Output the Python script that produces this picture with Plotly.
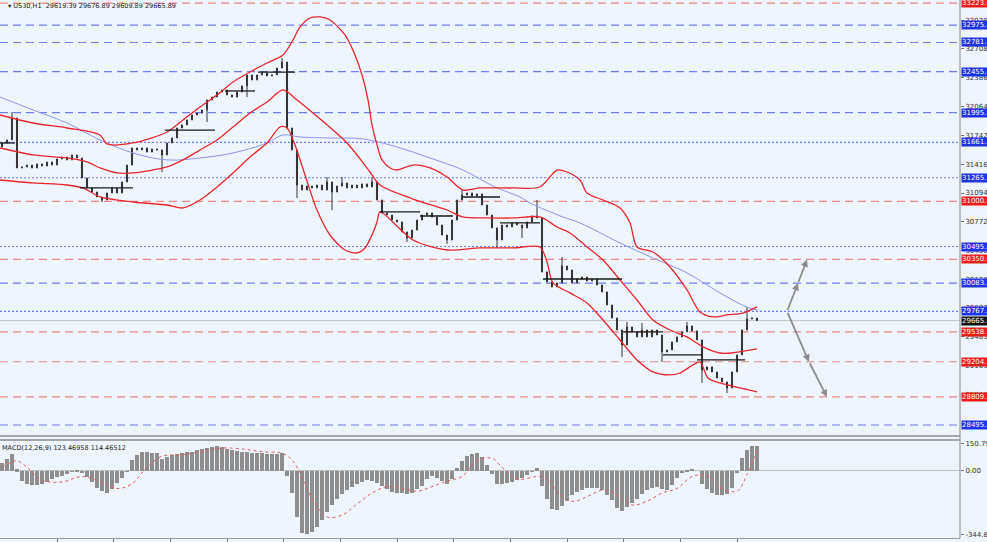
import plotly.graph_objects as go

# ---------------- data ----------------
first_open = 31610
closes = [31655, 31689, 31935, 31375, 31386, 31408, 31375, 31420, 31397, 31442,
          31408, 31476, 31498, 31465, 31521, 31487, 31263, 31151, 31106, 31050,
          31016, 31095, 31151, 31095, 31218, 31408, 31599, 31577, 31599, 31554,
          31588, 31577, 31521, 31655, 31711, 31823, 31857, 31913, 31969, 31991,
          32025, 32137, 32170, 32226, 32249, 32193, 32170, 32226, 32294, 32417,
          32361, 32417, 32439, 32406, 32417, 32495, 32562, 31823, 31577, 31184,
          31128, 31173, 31151, 31184, 31128, 31218, 31106, 31173, 31207, 31151,
          31184, 31151, 31196, 31162, 31218, 31016, 30871, 30848, 30792, 30770,
          30658, 30591, 30680, 30792, 30848, 30871, 30826, 30736, 30624, 30568,
          30792, 31016, 31072, 31095, 31061, 31084, 30960, 30848, 30703, 30568,
          30736, 30714, 30759, 30736, 30703, 30770, 30837, 30815, 30210, 30098,
          30042, 30087, 30277, 30232, 30087, 30131, 30154, 30109, 30131, 30064,
          29986, 29840, 29694, 29560, 29392, 29594, 29538, 29482, 29560, 29482,
          29560, 29504, 29314, 29336, 29426, 29482, 29538, 29605, 29549, 29448,
          29112, 29146, 29090, 29022, 28978, 28910, 29090, 29280, 29560, 29683,
          29694, 29665]
wick_high = {2: 32002, 56: 32607, 65: 31274, 68: 31274, 74: 31274, 92: 31128,
             107: 31016, 112: 30378, 125: 29650, 128: 29638, 137: 29650, 149: 29818}
wick_low = {20: 30994, 32: 31330, 41: 31890, 49: 32170, 59: 31039, 66: 30904,
            81: 30546, 89: 30524, 99: 30479, 104: 30591, 124: 29258, 132: 29202,
            140: 28966, 145: 28854}

# Bollinger bands (bar index, price)
upper_t = [-0.4, 6.2, 13, 19.6, 21, 26.2, 33, 36.2, 39.6, 43, 46.2, 49.6, 53, 56.2, 58.2,
           59.6, 61.6, 63.6, 65.6, 68.6, 70.6, 72, 73.2, 74, 75, 76, 77.6, 79, 82.2, 85.6,
           89, 92.2, 95.6, 102.2, 107.6, 111, 113, 115.6, 117, 120.2, 123.6, 125.6, 127,
           130.2, 133.6, 137, 139.6, 142.2, 145, 148.2, 151]
upper_v = [31969, 31879, 31823, 31745, 31644, 31655, 31778, 31913, 32058, 32193, 32338,
           32450, 32551, 32641, 32809, 32954, 33055, 33067, 33033, 32865, 32641, 32417,
           32137, 31857, 31633, 31465, 31375, 31352, 31408, 31375, 31274, 31128, 31151,
           31151, 31162, 31352, 31330, 31240, 31095, 31016, 30927, 30759, 30490, 30434,
           30266, 30008, 29761, 29706, 29728, 29750, 29818]
middle_t = [-0.4, 6.2, 13, 17, 19.6, 23, 26.2, 33, 36.2, 39.6, 43, 46.2, 49.6, 53, 56.2,
            59, 62.2, 69, 73.6, 75.6, 82.2, 89, 92.2, 96.6, 102.2, 107.6, 111, 113.6, 117,
            120.2, 123.6, 127, 130.2, 133.6, 137, 140.2, 143.6, 146, 151]
middle_v = [31599, 31521, 31487, 31442, 31375, 31319, 31319, 31386, 31465, 31577, 31689,
            31834, 31991, 32114, 32249, 32137, 31991, 31655, 31330, 31184, 31027, 30904,
            30826, 30815, 30815, 30826, 30714, 30647, 30490, 30344, 30120, 29896, 29672,
            29560, 29482, 29370, 29302, 29302, 29347]
lower_t = [-0.4, 6.2, 13, 16.2, 19.6, 26.2, 33, 36.2, 39.6, 43, 46.2, 49.6, 53, 55.6, 57,
           58.6, 60.6, 63, 65.6, 68.6, 71, 72.6, 74, 75, 75.6, 82.2, 89, 95.6, 102.2, 107.6,
           109, 110.2, 113.6, 117, 120.2, 123.6, 127, 130.2, 133.6, 135.6, 138.2, 139.6,
           141.2, 143.6, 147.6, 151]
lower_v = [31240, 31207, 31184, 31151, 31050, 30994, 30960, 30927, 31016, 31162, 31319,
           31498, 31655, 31834, 31823, 31633, 31296, 30904, 30624, 30456, 30423, 30479,
           30624, 30770, 30882, 30568, 30456, 30479, 30479, 30490, 30322, 30087, 29975,
           29863, 29672, 29448, 29224, 29090, 29056, 29078, 29168, 29202, 29022, 28966,
           28910, 28865]
ma_t = [-0.4, 6.2, 13, 19.6, 26.2, 33, 39.6, 46.2, 53, 56.2, 59.6, 65.6, 72.2, 79, 85.6,
        92.2, 98.6, 103.6, 105.6, 112.2, 115.6, 123.6, 130.2, 137, 143.6, 148.9, 151]
ma_v = [32170, 32025, 31879, 31689, 31543, 31465, 31487, 31543, 31655, 31745, 31722,
        31711, 31700, 31610, 31487, 31352, 31162, 31050, 30983, 30826, 30759, 30535,
        30367, 30199, 29975, 29818, 29784]

# horizontal levels
levels = [33223.0, 32975.0, 32781.0, 32455.0, 31995.7, 31661.4, 31265.3, 31000.0,
          30495.0, 30350.0, 30083.7, 29767.2, 29538.5, 29204.1, 28809.3, 28495.2]
level_color = ["red", "blue", "blue", "blue", "blue", "blue", "blue", "red",
               "blue", "red", "blue", "blue", "red", "red", "red", "blue"]
level_style = ["dash", "dash", "dash", "dash", "dash", "dot", "dot", "dash",
               "dot", "dash", "dash", "dot", "dash", "dash", "dash", "dash"]
last_price = 29665.8

# grey price-axis ticks
price_ticks = [33029.7, 32708.8, 32386.9, 32064.5, 31742.7, 31416.0, 31094.3, 30772.5,
               30450.6, 30128.8, 29807.0, 29485.2, 29163.4, 28841.6]

# short black horizontal segments (bar start, bar end, price)
seg_x0 = [-0.4, 15.6, 32.6, 44.6, 51.2, 75.6, 83.6, 92.2, 99.6, 108.2, 124.2, 132.2, 139.0]
seg_x1 = [2.6, 26.2, 42.6, 50.6, 58.6, 83.6, 90.2, 99.6, 107.6, 124.0, 132.2, 140.2, 148.6]
seg_p = [31655, 31151, 31800, 32238, 32450, 30882, 30837, 31050, 30759, 30131, 29538,
         29280, 29224]

# projected paths
up_x = [157, 159.2, 161]
up_p = [29767.2, 30083.7, 30350.0]
dn_x = [157, 161.4, 165]
dn_p = [29767.2, 29204.1, 28809.3]

# MACD
macd_hist = [45, 65, 95, 10, -55, -70, -77, -77, -72, -58, -46, -35, -26, -14, -2, 8, -8,
             -35, -62, -92, -110, -118, -100, -67, -38, -5, 60, 90, 102, 104, 100, 96, 65,
             75, 90, 95, 98, 102, 105, 112, 120, 127, 132, 135, 133, 122, 113, 108, 104,
             103, 100, 98, 96, 92, 93, 94, 96, -25, -120, -250, -335, -345, -330, -305,
             -265, -225, -185, -155, -125, -102, -88, -72, -58, -50, -55, -67, -80, -100,
             -112, -119, -122, -125, -120, -100, -80, -45, -25, -36, -55, -73, -45, 15, 55,
             80, 95, 100, 75, 35, -15, -70, -72, -66, -58, -48, -38, -22, -2, 18, -80, -154,
             -205, -210, -192, -165, -130, -115, -102, -93, -90, -95, -105, -130, -160, -200,
             -218, -195, -172, -150, -125, -105, -92, -87, -100, -105, -75, -40, -8, 8, 13,
             0, -70, -100, -120, -132, -130, -125, -95, -10, 70, 115, 134, 134]
sig_t = [0, 3, 5, 8, 12, 16, 20, 23, 26, 29, 32, 36, 40, 44, 48, 52, 56, 58, 60, 62, 65,
         68, 71, 74, 77, 80, 83, 86, 89, 92, 95, 98, 100, 103, 107, 109, 111, 114, 117,
         120, 123, 126, 129, 132, 135, 138, 141, 144, 147, 149, 151]
sig_v = [20, 55, 20, -50, -60, -30, -60, -95, -70, 20, 80, 88, 105, 125, 120, 105, 97,
         60, -30, -150, -250, -240, -180, -120, -85, -95, -110, -85, -55, -30, 55, 70, 20,
         -45, -30, -40, -110, -165, -140, -105, -130, -185, -165, -120, -95, -30, -25,
         -95, -110, -20, 114]
macd_ticks = [150.791, 0.0, -344.812]
x_ticks = [11, 22.2, 33.6, 45, 56.2, 67.6, 79, 90.2, 101.6, 113, 124.2, 135.6, 147]

# ---------------- build ----------------
n = len(closes)
bars = list(range(n))
opens = [first_open] + closes[:-1]
highs = [max(o, c) for o, c in zip(opens, closes)]
lows = [min(o, c) for o, c in zip(opens, closes)]
for k, v in wick_high.items():
    highs[k] = v
for k, v in wick_low.items():
    lows[k] = v

BG = "#eef5fc"
RED = "#e8262c"
FONT = "DejaVu Sans"
col_map = {"red": "#ea8a8a", "blue": "#6f7ff0"}
box_map = {"red": "#f01a1a", "blue": "#1f32e6"}
dash_map = {"dash": "8px,5px", "dot": "2px,2px"}

fig = go.Figure()

# levels
for lv, c, s in zip(levels, level_color, level_style):
    fig.add_shape(type="line", xref="paper", x0=0, x1=1, yref="y", y0=lv, y1=lv,
                  line=dict(color=col_map[c], width=1.2, dash=dash_map[s]), layer="below")
fig.add_shape(type="line", xref="paper", x0=0, x1=1, yref="y", y0=last_price, y1=last_price,
              line=dict(color="#c8c8c8", width=1), layer="below")

fig.add_trace(go.Scatter(x=ma_t, y=ma_v, mode="lines", line=dict(color="#8f96ee", width=1,
                         shape="spline"), hoverinfo="skip", xaxis="x", yaxis="y"))
for t, v in ((upper_t, upper_v), (middle_t, middle_v), (lower_t, lower_v)):
    fig.add_trace(go.Scatter(x=t, y=v, mode="lines",
                             line=dict(color=RED, width=1.3, shape="spline", smoothing=0.8),
                             hoverinfo="skip", xaxis="x", yaxis="y"))

for a, b, p in zip(seg_x0, seg_x1, seg_p):
    fig.add_shape(type="line", xref="x", yref="y", x0=a, x1=b, y0=p, y1=p,
                  line=dict(color="#1a1a1a", width=1.3))

fig.add_trace(go.Candlestick(x=bars, open=opens, high=highs, low=lows, close=closes,
                             increasing=dict(line=dict(color="#333333", width=1), fillcolor="#e6e6e6"),
                             decreasing=dict(line=dict(color="#333333", width=1), fillcolor="#333333"),
                             whiskerwidth=0, xaxis="x", yaxis="y"))

# projection arrows
for px, pp in ((up_x, up_p), (dn_x, dn_p)):
    for i in range(len(px) - 1):
        fig.add_annotation(x=px[i + 1], y=pp[i + 1], ax=px[i], ay=pp[i], xref="x", yref="y",
                           axref="x", ayref="y", showarrow=True, arrowhead=2, arrowsize=0.8,
                           arrowwidth=1.8, arrowcolor="#8c8c8c", text="")

# MACD
fig.add_trace(go.Bar(x=bars, y=macd_hist, marker=dict(color="#8e8e8e", line=dict(width=0)),
                     width=0.85, xaxis="x2", yaxis="y2", hoverinfo="skip"))
fig.add_trace(go.Scatter(x=sig_t, y=sig_v, mode="lines",
                         line=dict(color="#e06060", width=1, dash="dot", shape="spline"),
                         xaxis="x2", yaxis="y2", hoverinfo="skip"))

# level labels on the price scale
for lv, c in zip(levels, level_color):
    fig.add_annotation(xref="paper", x=1, xanchor="left", xshift=1, yref="y", y=lv,
                       text="%.1f" % lv, showarrow=False, bgcolor=box_map[c],
                       font=dict(family=FONT, size=7, color="white"), borderpad=0)
fig.add_annotation(xref="paper", x=1, xanchor="left", xshift=1, yref="y", y=last_price,
                   text="%.1f" % last_price, showarrow=False, bgcolor="#111111",
                   font=dict(family=FONT, size=7, color="white"), borderpad=0)

fig.add_annotation(xref="paper", yref="paper", x=0.006, y=1.0, xanchor="left", yanchor="top",
                   text="\u25be US30,H1  29619.39 29676.89 29609.89 29665.89", showarrow=False,
                   font=dict(family=FONT, size=6.5, color="#222"))
fig.add_annotation(xref="paper", yref="paper", x=0.0, y=0.178, xanchor="left", yanchor="top",
                   text="MACD(12,26,9) 123.46958 114.46512", showarrow=False,
                   font=dict(family=FONT, size=6.5, color="#222"))

# pane separators
fig.add_shape(type="line", xref="paper", yref="paper", x0=0, x1=1, y0=0.1896, y1=0.1896,
              line=dict(color="#8a8a8a", width=1.5))
fig.add_shape(type="line", xref="paper", yref="paper", x0=0, x1=1, y0=0.1822, y1=0.1822,
              line=dict(color="#8a8a8a", width=1.5))
fig.add_shape(type="line", xref="paper", yref="paper", x0=1, x1=1, y0=0, y1=1,
              line=dict(color="#9a9a9a", width=1.2))

xr = [-0.4, 191.6]
fig.update_layout(
    width=987, height=542, margin=dict(l=0, r=27, t=0, b=4, autoexpand=False),
    paper_bgcolor=BG, plot_bgcolor=BG, showlegend=False,
    font=dict(family=FONT, size=7, color="#333"),
    boxgap=0.7,
    xaxis=dict(domain=[0, 1], range=xr, anchor="y", showgrid=False, zeroline=False,
               showticklabels=False, rangeslider=dict(visible=False), automargin=False),
    xaxis2=dict(domain=[0, 1], range=xr, anchor="y2", showgrid=False, zeroline=False,
                showticklabels=False, tickvals=x_ticks, ticks="outside", ticklen=3,
                tickcolor="#777", showline=True, linecolor="#9a9a9a", automargin=False),
    yaxis=dict(domain=[0.1896, 1], range=[28372, 33257], side="right", showgrid=False,
               zeroline=False, tickvals=price_ticks, ticktext=["%.1f" % v for v in price_ticks],
               ticks="outside", ticklen=3, tickcolor="#777", automargin=False,
               tickfont=dict(family=FONT, size=7, color="#333")),
    yaxis2=dict(domain=[0, 0.1822], range=[-365, 169], side="right", showgrid=False,
                zeroline=True, zerolinecolor="#c0c0c0", zerolinewidth=1, tickvals=macd_ticks,
                ticktext=["150.791", "0.00", "-344.812"], ticks="outside", ticklen=3,
                tickcolor="#777", automargin=False,
                tickfont=dict(family=FONT, size=7, color="#333")),
    bargap=0,
)

fig.write_html("out.html", config={"displayModeBar": False},
               post_script="document.body.style.margin='0';document.body.style.overflow='hidden';")
